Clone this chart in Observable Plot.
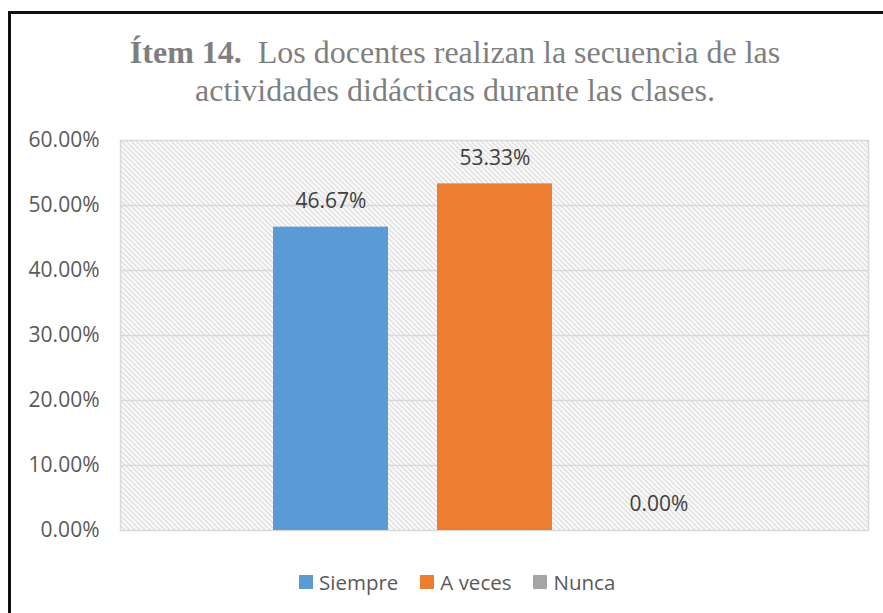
<!DOCTYPE html>
<html>
<head>
<meta charset="utf-8">
<script src="https://cdn.jsdelivr.net/npm/d3@7"></script>
<script src="https://cdn.jsdelivr.net/npm/@observablehq/plot@0.6"></script>
<style>
  html, body { margin: 0; padding: 0; background: #fff; overflow: hidden; }
  #wrap { position: relative; width: 883px; height: 613px; overflow: hidden; }
  #border { position: absolute; left: 8px; top: 11px; width: 920px; height: 700px;
            border-top: 3px solid #111; border-left: 3px solid #111; box-sizing: border-box; }
  #title { position: absolute; left: 0; top: 33px; width: 910px; text-align: center;
           font-family: "Liberation Serif", "Times New Roman", serif; font-size: 32px;
           line-height: 38px; color: #7f7f7f; }
  #title b { font-weight: bold; }
  #chart { position: absolute; left: 0; top: 0; }
  #legend { position: absolute; left: 299px; top: 570px; display: flex; align-items: center;
            font-family: "Open Sans", sans-serif; font-size: 20.5px; color: #595959; height: 24px; }
  .item { display: flex; align-items: center; margin-right: 22px; }
  .sw { width: 14px; height: 14px; margin-right: 6px; }
</style>
</head>
<body>
<svg width="0" height="0" style="position:absolute">
  <defs>
    <pattern id="hatch" patternUnits="userSpaceOnUse" width="5" height="5">
      <path d="M-1,-1 L6,6 M-1,4 L1,6 M4,-1 L6,1" stroke="#d6d6d6" stroke-width="1.3"/>
    </pattern>
  </defs>
</svg>
<div id="wrap">
  <div id="border"></div>
  <div id="chart"></div>
  <div id="title"><b>Ítem 14.</b>&nbsp; Los docentes realizan la secuencia de las<br>actividades didácticas durante las clases.</div>
  <div id="legend"></div>
</div>
<script>
const categories = ["Siempre", "A veces", "Nunca"];
const values = [0.4667, 0.5333, 0.0];
const colors = ["#5B9BD5", "#ED7D31", "#A5A5A5"];
const yTicks = [0, 0.1, 0.2, 0.3, 0.4, 0.5, 0.6];

const data = categories.map((c, i) => ({cat: c, value: values[i]}));
const pct = d3.format(".2%");

const chart = Plot.plot({
  width: 883,
  height: 613,
  marginLeft: 120,
  marginRight: 15,
  marginTop: 140,
  marginBottom: 83,
  style: {fontFamily: "'Open Sans', sans-serif", fontSize: "21px", color: "#595959", background: "transparent"},
  x: {domain: categories, range: [272.5, 715.5], paddingInner: 0.299, paddingOuter: 0, axis: null},
  y: {domain: [0, 0.6], ticks: yTicks, tickFormat: pct, tickSize: 0, tickPadding: 21, label: null},
  color: {domain: categories, range: colors},
  marks: [
    Plot.frame({fill: "url(#hatch)", stroke: "#d9d9d9", strokeWidth: 1.5}),
    Plot.ruleY(yTicks.slice(1, -1), {stroke: "#d9d9d9", strokeWidth: 1.5}),
    Plot.axisY({ticks: yTicks, tickFormat: pct, tickSize: 0, tickPadding: 21, label: null, fill: "#595959"}),
    Plot.barY(data, {x: "cat", y: "value", fill: "cat"}),
    Plot.text(data, {x: "cat", y: "value", text: d => pct(d.value), dy: -26, lineAnchor: "middle",
                     fill: "#404040", fontSize: 21})
  ]
});
document.getElementById("chart").appendChild(chart);

const legend = document.getElementById("legend");
categories.forEach((c, i) => {
  const it = document.createElement("div");
  it.className = "item";
  const sw = document.createElement("div");
  sw.className = "sw";
  sw.style.background = colors[i];
  const tx = document.createElement("span");
  tx.textContent = c;
  it.appendChild(sw);
  it.appendChild(tx);
  legend.appendChild(it);
});
</script>
</body>
</html>
